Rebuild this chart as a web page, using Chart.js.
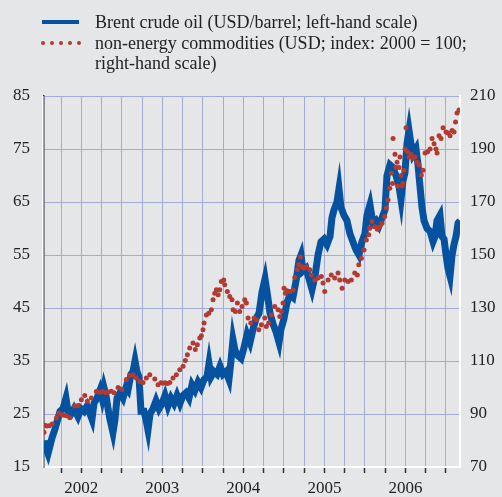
<!DOCTYPE html>
<html>
<head>
<meta charset="utf-8">
<script src="https://cdn.jsdelivr.net/npm/chart.js@4.4.0/dist/chart.umd.min.js"></script>
<style>
  html, body { margin: 0; padding: 0; background: #e5e6e8; }
  #wrap { position: relative; width: 502px; height: 497px; overflow: hidden; background: #e5e6e8; }
  #c { position: absolute; left: 0; top: 0; }
  .leg { position: absolute; font-family: "Liberation Serif", "Times New Roman", serif; font-size: 18px; color: #222; line-height: 20px; white-space: nowrap; }
  .sw-line { position: absolute; left: 42px; top: 20px; width: 37px; height: 4px; background: #0553a0; }
  .dot { position: absolute; width: 4px; height: 4px; border-radius: 50%; background: #b23a32; top: 41px; }
</style>
</head>
<body>
<div id="wrap">
  <canvas id="c" width="502" height="497"></canvas>
  <div class="sw-line"></div>
  <div class="dot" style="left:41px"></div>
  <div class="dot" style="left:50px"></div>
  <div class="dot" style="left:59px"></div>
  <div class="dot" style="left:68px"></div>
  <div class="dot" style="left:77px"></div>
  <div class="leg" style="left:95px; top:12px;">Brent crude oil (USD/barrel; left-hand scale)</div>
  <div class="leg" style="left:95px; top:33px;">non-energy commodities (USD; index: 2000 = 100;<br>right-hand scale)</div>
</div>
<script>
// ---- data (decimal years) ----
const brentYears = [2002.040,2002.065,2002.089,2002.114,2002.139,2002.172,2002.200,2002.237,2002.274,2002.311,2002.336,2002.373,2002.410,2002.459,2002.497,2002.534,2002.571,2002.608,2002.632,2002.657,2002.694,2002.731,2002.756,2002.780,2002.805,2002.830,2002.854,2002.891,2002.916,2002.941,2002.978,2003.015,2003.052,2003.076,2003.113,2003.138,2003.163,2003.187,2003.212,2003.237,2003.274,2003.298,2003.323,2003.348,2003.385,2003.422,2003.459,2003.496,2003.533,2003.570,2003.607,2003.644,2003.681,2003.718,2003.755,2003.792,2003.829,2003.866,2003.903,2003.940,2003.977,2004.014,2004.051,2004.076,2004.101,2004.138,2004.175,2004.212,2004.248,2004.285,2004.322,2004.347,2004.372,2004.397,2004.434,2004.471,2004.508,2004.545,2004.582,2004.619,2004.656,2004.693,2004.730,2004.767,2004.792,2004.829,2004.866,2004.903,2004.940,2004.964,2005.001,2005.038,2005.075,2005.112,2005.149,2005.186,2005.211,2005.236,2005.273,2005.310,2005.347,2005.384,2005.421,2005.458,2005.495,2005.532,2005.569,2005.593,2005.618,2005.655,2005.680,2005.704,2005.741,2005.778,2005.815,2005.852,2005.889,2005.926,2005.963,2006.000,2006.025,2006.062,2006.099,2006.136,2006.173,2006.210,2006.247,2006.272,2006.309,2006.346,2006.383,2006.420,2006.445,2006.469,2006.494,2006.519,2006.544,2006.568,2006.593,2006.630,2006.655,2006.679,2006.704,2006.729,2006.766,2006.803,2006.840,2006.865,2006.889,2006.926,2006.951,2006.976,2007.001,2007.025,2007.050,2007.075,2007.099,2007.124,2007.149,2007.173];
const brentUSD = [20,18.5,17.5,19,20.5,22,23.5,25.5,26,28,25.5,25,26,24.5,26,25.5,26.5,25,24,27,28,29.5,28,30,28.5,26,24,21.5,24,28,29,28,30,29.5,32.5,33,35,33,32,25.5,25.5,24,22,25,26,27.5,26,27,28.5,26.5,28,27,28.5,27,28.5,29,28,30.5,29.5,31,30,31.5,32,34.5,32,33,32.5,34,32.5,33,31.5,35,39,37,36,35.5,37.5,40,38.5,41,43,44,48,50.5,48,44,42,40.5,38.5,41,43,46,47.5,47,50,54,55,52,52.5,50.5,48.5,51,55,57.5,58,57,58.5,62,63.5,65,67.5,64,62.5,61.5,59,57.5,56,55,57.5,59,62.5,64.5,61,61.5,60.5,62,63.5,70,72,71.5,70,68,65.5,69,70.5,76,78.5,76,74,75,72,68,64,61.5,60,59.5,57.5,58.5,61.5,62.5,58.5,58,55,52.5,51,55,57,58.5,61,61.5];

const commodityYears = [2002.040,2002.050,2002.075,2002.105,2002.140,2002.192,2002.222,2002.250,2002.285,2002.316,2002.358,2002.420,2002.460,2002.501,2002.543,2002.575,2002.624,2002.686,2002.728,2002.765,2002.800,2002.830,2002.870,2002.905,2002.954,2003.000,2003.056,2003.098,2003.139,2003.180,2003.221,2003.262,2003.303,2003.345,2003.407,2003.447,2003.484,2003.510,2003.534,2003.565,2003.592,2003.632,2003.673,2003.715,2003.756,2003.784,2003.809,2003.838,2003.879,2003.907,2003.932,2003.962,2003.982,2004.002,2004.015,2004.043,2004.073,2004.105,2004.126,2004.147,2004.167,2004.188,2004.209,2004.228,2004.258,2004.270,2004.302,2004.332,2004.360,2004.373,2004.401,2004.426,2004.455,2004.484,2004.517,2004.537,2004.558,2004.591,2004.632,2004.660,2004.690,2004.722,2004.764,2004.783,2004.813,2004.845,2004.887,2004.928,2004.949,2004.969,2004.990,2005.002,2005.018,2005.039,2005.076,2005.113,2005.134,2005.166,2005.183,2005.203,2005.224,2005.249,2005.277,2005.319,2005.339,2005.381,2005.421,2005.462,2005.483,2005.504,2005.545,2005.585,2005.627,2005.668,2005.689,2005.718,2005.751,2005.792,2005.832,2005.874,2005.906,2005.924,2005.956,2005.989,2006.017,2006.047,2006.059,2006.088,2006.121,2006.153,2006.183,2006.211,2006.244,2006.264,2006.285,2006.306,2006.326,2006.340,2006.347,2006.371,2006.383,2006.396,2006.405,2006.421,2006.433,2006.446,2006.458,2006.470,2006.482,2006.495,2006.507,2006.526,2006.544,2006.569,2006.593,2006.618,2006.643,2006.667,2006.696,2006.717,2006.742,2006.773,2006.803,2006.828,2006.853,2006.877,2006.890,2006.914,2006.939,2006.964,2007.001,2007.026,2007.050,2007.075,2007.099,2007.118,2007.137,2007.161];
const commodityIndex = [83.1,85.8,85.5,85.6,86.2,88.5,90.3,89.8,89.5,89.3,88.6,93,93.2,95.4,97,94.8,96,98.5,98.2,98.5,98,98.3,98.6,98,100,99.2,103,104.5,104.8,103.6,102.3,101.9,103.6,104.8,103.2,101,101.8,101.6,101.8,101.5,101.9,103.6,104.8,106.7,108,110.2,112.4,114.9,116.8,114.3,116.1,118.7,119.5,121.8,124.3,127.4,128,129.3,133.1,135.6,136.9,135,136.9,140,140.6,138.8,136.2,134.3,133.1,129.3,128.7,131.9,128.7,130.6,133.1,131.9,126.2,124.3,126.2,125.6,121.8,123.7,126.2,123,124.3,127.4,130.6,129.3,126.8,128.7,131.9,137.5,135.6,136.5,136.2,136.8,141.5,144.4,146.3,149.2,145.6,145,145.6,144.4,142.5,140.6,141.3,141.9,139.4,136.2,140.6,142.5,141.3,143.2,140.6,137.5,140.6,140,140.6,143.2,142.5,146.3,148.8,151.9,155.7,157.6,160.1,162.6,160.7,159.7,160.7,162,164.5,167.7,170.8,175.2,180.9,177,194,188,183,185,176,183,187,180,176,177,182,190,198,189,187,188,186.5,187,185,184,180.2,182,188.5,189,190,194,192,190,188.5,195,194,198,196.4,196,195,197,196.4,200.2,203.6,204.7];

const quarterTicks = [];
for (let q = 2002.25; q <= 2007.001; q += 0.25) quarterTicks.push(Math.round(q * 100) / 100);

const FONT = { family: "'Liberation Serif', 'Times New Roman', serif", size: 17 };
const GRID = '#a3acd8';

const framePlugin = {
  id: 'frame',
  afterDraw(chart) {
    const { ctx, chartArea: a } = chart;
    ctx.save();
    ctx.strokeStyle = '#ffffff';
    ctx.lineWidth = 1.5;
    ctx.beginPath();
    ctx.moveTo(a.left - 1.2, a.top);
    ctx.lineTo(a.left - 1.2, a.bottom + 1);
    ctx.stroke();
    ctx.restore();
  }
};

new Chart(document.getElementById('c'), {
  type: 'scatter',
  data: {
    datasets: [
      {
        label: 'non-energy commodities',
        data: commodityYears.map((x, i) => ({ x, y: commodityIndex[i] })),
        yAxisID: 'y1',
        showLine: false,
        pointRadius: 2.5,
        pointBorderWidth: 0,
        pointBackgroundColor: '#b23a32',
        order: 0
      },
      {
        label: 'Brent crude oil',
        data: brentYears.map((x, i) => ({ x, y: brentUSD[i] })),
        yAxisID: 'y',
        showLine: true,
        borderColor: '#0553a0',
        borderWidth: 7,
        pointRadius: 0,
        tension: 0,
        borderJoinStyle: 'miter',
        order: 1
      }
    ]
  },
  options: {
    responsive: false,
    devicePixelRatio: 1,
    animation: false,
    layout: { padding: { top: 96, left: 0, right: 0, bottom: 0 } },
    plugins: { legend: { display: false }, tooltip: { enabled: false } },
    scales: {
      x: {
        type: 'linear',
        min: 2002.04,
        max: 2007.173,
        afterBuildTicks(s) { s.ticks = quarterTicks.map(v => ({ value: v })); },
        afterFit(s) { s.height = 30; },
        ticks: {
          autoSkip: false, maxRotation: 0, padding: 5,
          font: FONT, color: '#222',
          callback(v) { const f = v - Math.floor(v); return Math.abs(f - 0.5) < 0.01 ? String(Math.floor(v)) : ''; }
        },
        grid: { color: GRID, lineWidth: 1, tickLength: 6, tickColor: '#333', tickWidth: 1.5 },
        border: { color: '#ffffff', width: 2 }
      },
      y: {
        position: 'left',
        min: 15, max: 85,
        afterFit(s) { s.width = 44; },
        ticks: { stepSize: 10, padding: 14, font: FONT, color: '#222' },
        grid: { color: GRID, lineWidth: 1, drawTicks: false },
        border: { color: '#333', width: 1.5 }
      },
      y1: {
        position: 'right',
        min: 70, max: 210,
        afterFit(s) { s.width = 42; },
        ticks: { stepSize: 20, padding: 10, font: FONT, color: '#222' },
        grid: { drawOnChartArea: false, drawTicks: false },
        border: { color: '#ffffff', width: 2 }
      }
    }
  },
  plugins: [framePlugin]
});
</script>
</body>
</html>
